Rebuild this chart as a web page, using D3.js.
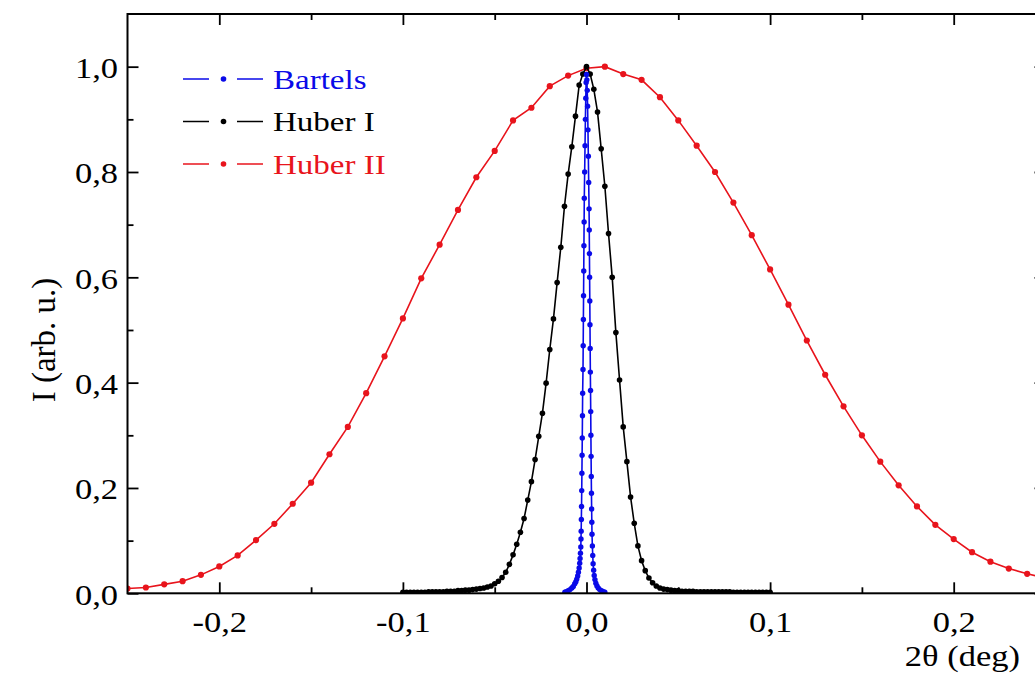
<!DOCTYPE html>
<html>
<head>
<meta charset="utf-8">
<script src="https://cdn.jsdelivr.net/npm/d3@7"></script>
<style>
  body { margin: 0; background: #fff; }
  text { font-family: "Liberation Serif", "Times New Roman", serif; }
</style>
</head>
<body>
<svg id="chart" width="1035" height="675"></svg>
<script>
// Huber II (red), one point every 0.01 deg
const huberIIX = [-0.25,-0.24,-0.23,-0.22,-0.21,-0.20,-0.19,-0.18,-0.17,-0.16,
  -0.15,-0.14,-0.13,-0.12,-0.11,-0.10,-0.09,-0.08,-0.07,-0.06,
  -0.05,-0.04,-0.03,-0.02,-0.01,0.00,0.01,0.02,0.03,0.04,
  0.05,0.06,0.07,0.08,0.09,0.10,0.11,0.12,0.13,0.14,
  0.15,0.16,0.17,0.18,0.19,0.20,0.21,0.22,0.23,0.24,0.25];
const huberIIY = [0.009,0.011,0.017,0.023,0.035,0.051,0.072,0.101,0.132,0.170,
  0.210,0.264,0.316,0.380,0.450,0.522,0.598,0.662,0.728,0.790,
  0.840,0.898,0.922,0.963,0.983,0.997,1.000,0.986,0.975,0.942,
  0.898,0.850,0.800,0.742,0.680,0.615,0.548,0.480,0.415,0.355,
  0.300,0.250,0.205,0.165,0.130,0.103,0.078,0.060,0.047,0.037,0.029];

// Huber I (black)
const huberIX = [-0.100,-0.098,-0.096,-0.094,-0.092,-0.090,-0.088,-0.086,-0.084,-0.082,
  -0.080,-0.078,-0.076,-0.074,-0.072,-0.070,-0.068,-0.066,-0.064,-0.062,
  -0.060,-0.058,-0.056,-0.054,-0.052,-0.050,-0.048,-0.046,-0.044,-0.042,
  -0.040,-0.038,-0.036,-0.034,-0.032,-0.030,-0.028,-0.026,-0.024,-0.022,
  -0.020,-0.018,-0.016,-0.014,-0.012,-0.010,-0.008,-0.006,-0.004,-0.002,
  0.000,0.002,0.004,0.006,0.008,0.010,0.012,0.014,0.016,0.018,
  0.020,0.022,0.024,0.026,0.028,0.030,0.032,0.034,0.036,0.038,
  0.040,0.042,0.044,0.046,0.048,0.050,0.052,0.054,0.056,0.058,
  0.060,0.062,0.064,0.066,0.068,0.070,0.072,0.074,0.076,0.078,
  0.080,0.082,0.084,0.086,0.088,0.090,0.092,0.094,0.096,0.098,0.100];
const huberIY = [0.002,0.002,0.002,0.002,0.002,0.002,0.002,0.003,0.003,0.003,
  0.003,0.003,0.004,0.004,0.004,0.005,0.005,0.006,0.006,0.007,
  0.008,0.009,0.010,0.012,0.014,0.018,0.023,0.030,0.040,0.055,
  0.073,0.093,0.116,0.142,0.177,0.212,0.254,0.298,0.342,0.399,
  0.463,0.521,0.590,0.657,0.735,0.796,0.848,0.906,0.965,0.986,
  1.000,0.986,0.957,0.914,0.844,0.773,0.683,0.600,0.495,0.405,
  0.316,0.250,0.183,0.133,0.090,0.062,0.043,0.029,0.020,0.014,
  0.010,0.008,0.007,0.006,0.005,0.005,0.004,0.004,0.004,0.004,
  0.003,0.003,0.003,0.003,0.003,0.003,0.003,0.003,0.003,0.003,
  0.002,0.002,0.002,0.002,0.002,0.002,0.002,0.002,0.002,0.002,0.002];

// Bartels (blue)
const bartelsX = [-0.0118,-0.0110,-0.0100,-0.0090,-0.0080,-0.0072,-0.0064,-0.0058,-0.0053,-0.0048,
  -0.0044,-0.0040,-0.0037,-0.0035,-0.0033,-0.0031,-0.0030,-0.0029,-0.0028,-0.0027,
  -0.0026,-0.0025,-0.0024,-0.0023,-0.0022,-0.0021,-0.0019,-0.0018,-0.0017,-0.0016,
  -0.0015,-0.0014,-0.0013,-0.0012,-0.0010,-0.0008,-0.0006,-0.0004,-0.0002,0.0000,
  0.0002,0.0004,0.0006,0.0008,0.0010,0.0012,0.0014,0.0015,0.0016,0.0017,
  0.0018,0.0019,0.0020,0.0021,0.0022,0.0023,0.0024,0.0025,0.0026,0.0027,
  0.0028,0.0029,0.0030,0.0032,0.0034,0.0036,0.0039,0.0042,0.0046,0.0051,
  0.0057,0.0064,0.0072,0.0082,0.0092,0.0100];
const bartelsY = [0.002,0.003,0.005,0.007,0.010,0.013,0.018,0.022,0.027,0.033,
  0.040,0.048,0.057,0.066,0.076,0.088,0.103,0.118,0.140,0.165,
  0.195,0.228,0.262,0.295,0.337,0.380,0.425,0.470,0.520,0.565,
  0.612,0.660,0.705,0.750,0.800,0.850,0.900,0.940,0.970,0.985,
  0.975,0.955,0.925,0.880,0.830,0.780,0.730,0.690,0.645,0.600,
  0.555,0.510,0.465,0.420,0.385,0.345,0.300,0.260,0.222,0.190,
  0.160,0.135,0.112,0.090,0.072,0.056,0.044,0.034,0.026,0.019,
  0.014,0.010,0.007,0.005,0.003,0.002];

const xMajor = [-0.2, -0.1, 0, 0.1, 0.2];
const xMinor = [-0.15, -0.05, 0.05, 0.15];
const yMajor = [0, 0.2, 0.4, 0.6, 0.8, 1.0];
const yMinor = [0.1, 0.3, 0.5, 0.7, 0.9];
const legendNames = ['Bartels', 'Huber I', 'Huber II'];
const legendColors = ['#0a0ae8', '#000000', '#e8141c'];

const svg = d3.select('#chart');
const pLeft = 127.5, pRight = 1045.5, pTop = 14, pBottom = 593.3;
const x = d3.scaleLinear().domain([-0.25, 0.25]).range([pLeft, pRight]);
const y = d3.scaleLinear().domain([0, 1.1]).range([pBottom, pTop]);
const stretch = 'scale(1.15,1)';
const fmt = v => v.toFixed(1).replace('.', ',');

svg.append('clipPath').attr('id', 'clip')
  .append('rect').attr('x', pLeft).attr('y', pTop).attr('width', pRight - pLeft).attr('height', pBottom - pTop);

//Curves
const series = [
  {xs: huberIIX, ys: huberIIY, color: legendColors[2], r: 3.1},
  {xs: huberIX, ys: huberIY, color: legendColors[1], r: 2.8},
  {xs: bartelsX, ys: bartelsY, color: legendColors[0], r: 2.7}
];
const line = d3.line().x(d => x(d[0])).y(d => y(d[1]));
const plot = svg.append('g').attr('clip-path', 'url(#clip)');
series.forEach(s => {
  const pts = s.xs.map((v, i) => [v, s.ys[i]]);
  plot.append('path').datum(pts)
    .attr('d', line)
    .attr('fill', 'none')
    .attr('stroke', s.color)
    .attr('stroke-width', 1.6);
  plot.selectAll(null).data(pts).enter().append('circle')
    .attr('cx', d => x(d[0]))
    .attr('cy', d => y(d[1]))
    .attr('r', s.r)
    .attr('fill', s.color);
});

//Axes (ticks point inward)
function addAxis(axis, tx, ty) {
  const g = svg.append('g').attr('transform', `translate(${tx},${ty})`).call(axis);
  g.select('.domain').remove();
  g.selectAll('line').attr('stroke', '#000').attr('stroke-width', 1.8);
  return g;
}
const bx = addAxis(d3.axisBottom(x).tickValues(xMajor).tickSize(-11).tickFormat(fmt), 0, pBottom);
bx.selectAll('text').attr('y', 38.5).attr('dy', null)
  .attr('font-size', 30).attr('fill', '#000').attr('transform', stretch);
addAxis(d3.axisBottom(x).tickValues(xMinor).tickSize(-6).tickFormat(''), 0, pBottom);
addAxis(d3.axisTop(x).tickValues(xMajor).tickSize(-11).tickFormat(''), 0, pTop);
addAxis(d3.axisTop(x).tickValues(xMinor).tickSize(-6).tickFormat(''), 0, pTop);

const ly = addAxis(d3.axisLeft(y).tickValues(yMajor).tickSize(-11).tickFormat(fmt), pLeft, 0);
ly.selectAll('text').attr('x', -9.5 / 1.15).attr('dy', '0.36em')
  .attr('font-size', 30).attr('fill', '#000').attr('transform', stretch);
addAxis(d3.axisLeft(y).tickValues(yMinor).tickSize(-6).tickFormat(''), pLeft, 0);
addAxis(d3.axisRight(y).tickValues(yMajor).tickSize(-11).tickFormat(''), pRight, 0);
addAxis(d3.axisRight(y).tickValues(yMinor).tickSize(-6).tickFormat(''), pRight, 0);

svg.append('rect')
  .attr('x', pLeft).attr('y', pTop)
  .attr('width', pRight - pLeft).attr('height', pBottom - pTop)
  .attr('fill', 'none').attr('stroke', '#000').attr('stroke-width', 2);

//Axis titles
svg.append('text')
  .attr('transform', `translate(1020,666) ${stretch}`)
  .attr('text-anchor', 'end')
  .attr('font-size', 30)
  .text('2θ (deg)');
svg.append('text')
  .attr('transform', 'translate(55,340) rotate(-90)')
  .attr('text-anchor', 'middle')
  .attr('font-size', 33)
  .text('I (arb. u.)');

//Legend
const legend = svg.append('g');
const rowY = [79, 121.5, 164];
legendNames.forEach((name, i) => {
  const g = legend.append('g').attr('transform', `translate(0,${rowY[i]})`);
  g.append('line').attr('x1', 183).attr('x2', 209).attr('stroke', legendColors[i]).attr('stroke-width', 1.5);
  g.append('line').attr('x1', 237).attr('x2', 263).attr('stroke', legendColors[i]).attr('stroke-width', 1.5);
  g.append('circle').attr('cx', 223.5).attr('r', 2.8).attr('fill', legendColors[i]);
  g.append('text')
    .attr('transform', `translate(273,9.5) scale(1.18,1)`)
    .attr('font-size', 28)
    .attr('fill', legendColors[i])
    .text(name);
});
</script>
</body>
</html>
